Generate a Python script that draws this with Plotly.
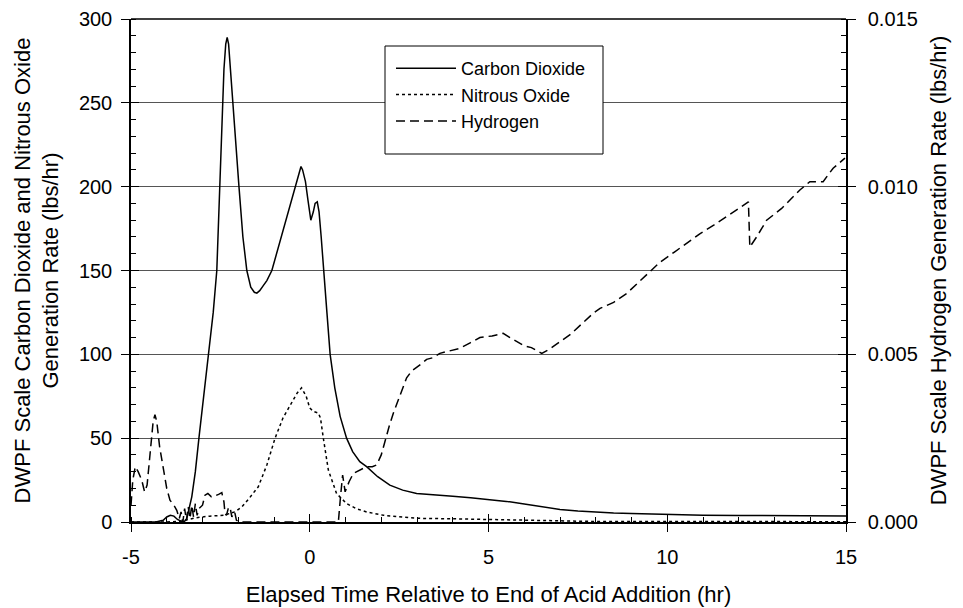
import plotly.graph_objects as go

# ---- Data ----
co2_t = [-5, -4.3, -4.1, -4.0, -3.9, -3.8, -3.7, -3.6, -3.5, -3.44, -3.3, -3.2, -3.1, -3.0, -2.9,
         -2.82, -2.7, -2.6, -2.51, -2.45, -2.4, -2.35, -2.31, -2.27, -2.22, -2.15, -2.05, -1.98,
         -1.87, -1.76, -1.65, -1.55, -1.48, -1.4, -1.3, -1.2, -1.06, -0.9, -0.7, -0.5, -0.36,
         -0.3, -0.245, -0.2, -0.12, -0.05, 0.03, 0.1, 0.15, 0.21, 0.26, 0.32, 0.40, 0.48, 0.57,
         0.7, 0.85, 1.03, 1.2, 1.4, 1.59, 1.9, 2.24, 2.6, 2.99, 3.5, 4.0, 4.5, 5.0, 5.5, 6.0,
         6.5, 7.0, 7.5, 8.0, 8.5, 9.0, 10.0, 11, 12, 13, 14, 15]
co2_v = [0, 0, 1, 3, 4, 3.5, 1.5, 0.5, 0.5, 2, 15, 30, 50, 68, 88,
         100, 125, 150, 200, 240, 270, 285, 289, 285, 270, 250, 215, 200,
         170, 150, 140, 137, 136.5, 138, 141, 144, 150, 162, 178, 193, 204,
         208, 212, 210, 203, 192, 180, 185, 190, 191, 185, 170, 150, 125, 100,
         80, 63, 50, 42, 36, 33, 27, 22, 19, 17, 16, 15.3, 14.5, 13.5, 12.3, 10.8,
         9, 7.5, 6.5, 5.8, 5.3, 5.0, 4.3, 4.0, 3.9, 3.8, 3.7, 3.6]

n2o_t = [-5, -4.0, -3.6, -3.2, -2.8, -2.4, -2.1, -1.9, -1.7, -1.44, -1.2, -0.97, -0.75, -0.5,
         -0.35, -0.23, -0.1, 0.0, 0.1, 0.24, 0.30, 0.38, 0.52, 0.75, 1.03, 1.3, 1.59, 2.06,
         3.0, 4.0, 5.3, 6.5, 8.0, 15]
n2o_v = [0, 0, 0.5, 2.5, 3.5, 4, 6, 9, 14, 21, 34, 50, 62, 71,
         77, 80, 75, 68, 66, 65, 62, 50, 31, 17, 11, 8, 6, 4,
         2.2, 1.9, 1.5, 0.8, 0.3, 0.2]

h2_t = [-5.0, -4.95, -4.88, -4.8, -4.7, -4.62, -4.55, -4.45, -4.38, -4.33, -4.28, -4.2, -4.1,
        -4.0, -3.91, -3.8, -3.72, -3.65, -3.6, -3.55, -3.5, -3.45, -3.4, -3.35, -3.3, -3.25,
        -3.2, -3.15, -3.1, -3.0, -2.93, -2.85, -2.75, -2.65, -2.55, -2.46, -2.4, -2.37, -2.33,
        -2.28, -2.23, -2.18, -2.1, -2.05, -1.95, 0.8, 0.86, 0.92, 0.99, 1.1, 1.22, 1.4, 1.59,
        1.75, 1.87, 2.0, 2.11, 2.22, 2.34, 2.45, 2.53, 2.62, 2.71, 2.85, 2.99, 3.1, 3.27, 3.45,
        3.64, 3.9, 4.2, 4.5, 4.76, 5.1, 5.41, 5.6, 5.79, 6.0, 6.2, 6.49, 6.7, 7.0, 7.3, 7.6,
        7.93, 8.12, 8.5, 8.87, 9.2, 9.52, 9.8, 10.2, 10.6, 10.92, 11.3, 11.7, 12.0, 12.27,
        12.31, 12.5, 12.78, 13.2, 13.71, 13.99, 14.36, 14.64, 14.97]
h2_v = [0.00050, 0.00125, 0.00165, 0.00150, 0.00125, 0.00090, 0.00110, 0.00225, 0.00300,
        0.00320, 0.00300, 0.00225, 0.00155, 0.00100, 0.00065, 0.00050, 0.00035, 0.00010,
        0.00030, 0.00000, 0.00040, 0.00005, 0.00045, 0.00010, 0.00050, 0.00015, 0.00055,
        0.00020, 0.00040, 0.00050, 0.00080, 0.00085, 0.00075, 0.000775, 0.000825, 0.000875,
        0.00060, 0.00025, 0.00020, 0.00040, 0.00045, 0.00015, 0.00030, 0.00005, 0.00000,
        0.00000, 0.00075, 0.00140, 0.00090, 0.00120, 0.00145, 0.00155, 0.00165, 0.00165,
        0.00170, 0.00200, 0.00245, 0.00285, 0.00325, 0.00355, 0.00375, 0.00405, 0.00430,
        0.00450, 0.00460, 0.00470, 0.00485, 0.00490, 0.00503, 0.00510, 0.00518, 0.00535,
        0.00550, 0.00555, 0.005625, 0.00550, 0.005375, 0.00525, 0.00520, 0.00503, 0.00515,
        0.005375, 0.00560, 0.00590, 0.006225, 0.00637, 0.00655, 0.00682, 0.00715, 0.00745,
        0.00775, 0.00805, 0.00835, 0.00860, 0.00885, 0.00915, 0.00935, 0.00955, 0.00820,
        0.00850, 0.00900, 0.00935, 0.00990, 0.01015, 0.01015, 0.01055, 0.01085]

x_tickvals = [-5, 0, 5, 10, 15]
x_ticktext = ["-5", "0", "5", "10", "15"]

FONT = "Liberation Sans, Arial, sans-serif"
TICKFONT = dict(family=FONT, size=20, color="black")

fig = go.Figure()
fig.add_trace(go.Scatter(x=co2_t, y=co2_v, mode="lines", name="Carbon Dioxide",
                         line=dict(color="black", width=1.5)))
fig.add_trace(go.Scatter(x=n2o_t, y=n2o_v, mode="lines", name="Nitrous Oxide",
                         line=dict(color="black", width=1.5, dash="dot")))
fig.add_trace(go.Scatter(x=h2_t, y=h2_v, mode="lines", name="Hydrogen", yaxis="y2",
                         line=dict(color="black", width=1.5, dash="9px,5px")))
# empty helper traces so the inner-tick overlay axes get drawn
fig.add_trace(go.Scatter(x=[], y=[], xaxis="x2", yaxis="y3", showlegend=False, hoverinfo="skip"))
fig.add_trace(go.Scatter(x=[], y=[], xaxis="x2", yaxis="y4", showlegend=False, hoverinfo="skip"))

# legend frame (white box with black border)
fig.add_shape(type="rect", xref="paper", yref="paper",
              x0=(385 - 131) / 715, x1=(603 - 131) / 715,
              y0=(522 - 154) / 503, y1=(522 - 46) / 503,
              fillcolor="white", line=dict(color="black", width=1), layer="above")

fig.update_layout(
    width=963, height=608,
    margin=dict(l=131, r=117, t=19, b=86, autoexpand=False),
    paper_bgcolor="white", plot_bgcolor="white",
    font=dict(family=FONT, size=18, color="black"),
    showlegend=True,
    legend=dict(x=(391 - 131) / 715, y=(522 - 50) / 503, xanchor="left", yanchor="top",
                bgcolor="rgba(0,0,0,0)", borderwidth=0,
                font=dict(size=18), itemwidth=60, tracegroupgap=0),
    xaxis=dict(range=[-5, 15], tickvals=x_tickvals, ticktext=x_ticktext,
               showline=True, linecolor="black",
               linewidth=1.5, ticks="outside", ticklen=8, tickfont=TICKFONT,
               ticklabelstandoff=8, automargin=False,
               tickcolor="black", showgrid=False, zeroline=False,
               minor=dict(dtick=1, tick0=-5, ticks="inside", ticklen=5, tickcolor="black"),
               title=dict(text="Elapsed Time Relative to End of Acid Addition (hr)",
                          standoff=20)),
    xaxis2=dict(range=[-5, 15], tickvals=x_tickvals, overlaying="x", anchor="y", side="bottom",
                ticks="inside", ticklen=8, tickcolor="black", showticklabels=False,
                automargin=False, showgrid=False, zeroline=False, showline=False),
    yaxis=dict(range=[0, 300], dtick=50, showline=True, linecolor="black", linewidth=1.5,
               ticks="outside", ticklen=8, tickcolor="black", showgrid=True,
               tickfont=TICKFONT, ticklabelstandoff=5, automargin=False,
               gridcolor="#555555", gridwidth=1, zeroline=False,
               minor=dict(dtick=10, ticks="inside", ticklen=5, tickcolor="black"),
               title=dict(text="DWPF Scale Carbon Dioxide and Nitrous Oxide<br>Generation Rate (lbs/hr)",
                          standoff=14)),
    yaxis2=dict(range=[0, 0.015], dtick=0.005, tickformat=".3f", overlaying="y", side="right",
                anchor="x", showline=True, linecolor="black", linewidth=1.5, ticks="outside",
                ticklen=8, tickcolor="black", showgrid=False, zeroline=False,
                tickfont=TICKFONT, ticklabelstandoff=8, automargin=False,
                minor=dict(dtick=0.0005, ticks="inside", ticklen=5, tickcolor="black"),
                title=dict(text="DWPF Scale Hydrogen Generation Rate (lbs/hr)", standoff=14)),
    yaxis3=dict(range=[0, 300], dtick=50, overlaying="y", side="left", anchor="x2",
                ticks="inside", ticklen=8, tickcolor="black", showticklabels=False,
                automargin=False, showgrid=False, zeroline=False, showline=False),
    yaxis4=dict(range=[0, 0.015], dtick=0.005, overlaying="y", side="right", anchor="x2",
                ticks="inside", ticklen=8, tickcolor="black", showticklabels=False,
                automargin=False, showgrid=False, zeroline=False, showline=False),
)
fig.add_shape(type="line", xref="paper", yref="paper", x0=0, x1=1, y0=1, y1=1,
              line=dict(color="black", width=1.5))

fig.write_html("out.html")
